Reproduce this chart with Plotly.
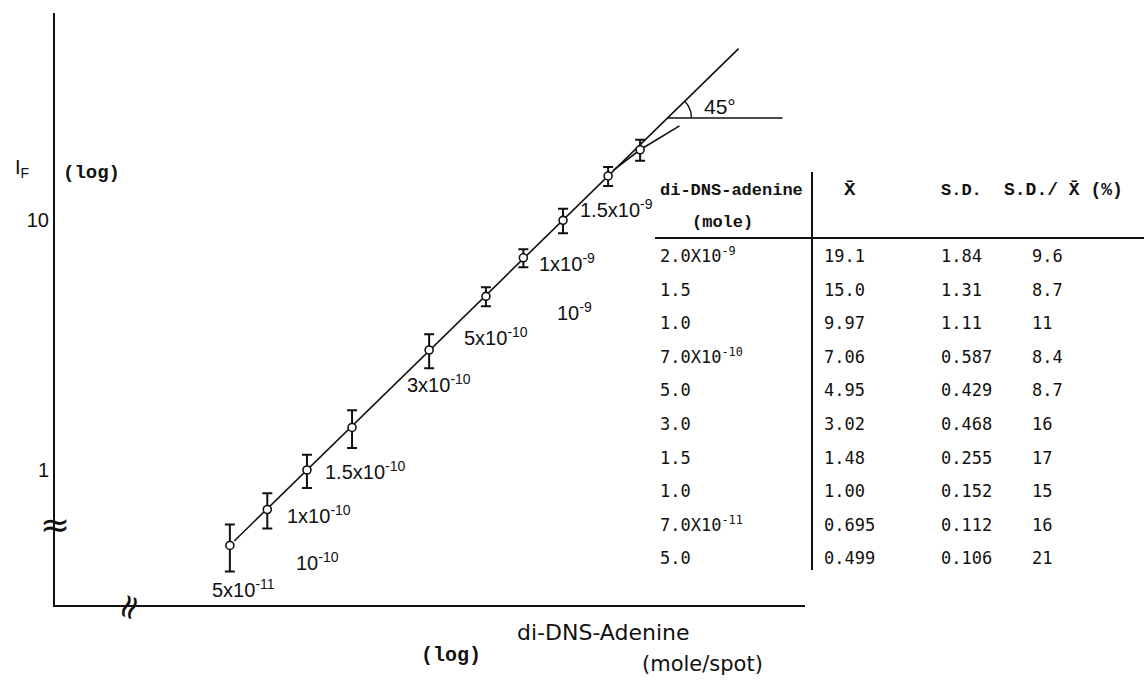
import numpy as np
import plotly.graph_objects as go

# ---------------- data ----------------
amount_mole = [5e-11, 7e-11, 1.0e-10, 1.5e-10, 3.0e-10, 5.0e-10, 7.0e-10, 1.0e-9, 1.5e-9, 2.0e-9]
mean_txt = ["0.499", "0.695", "1.00", "1.48", "3.02", "4.95", "7.06", "9.97", "15.0", "19.1"]
sd_txt = ["0.106", "0.112", "0.152", "0.255", "0.468", "0.429", "0.587", "1.11", "1.31", "1.84"]
cv_txt = ["21", "16", "15", "17", "16", "8.7", "8.4", "11", "8.7", "9.6"]
mole_txt = ["5.0", "7.0X10<sup>-11</sup>", "1.0", "1.5", "3.0", "5.0",
            "7.0X10<sup>-10</sup>", "1.0", "1.5", "2.0X10<sup>-9</sup>"]
mean_if = [float(s) for s in mean_txt]
sd_if = [float(s) for s in sd_txt]

# fitted straight line (slope 1 in log-log)
fit_x = [5.2e-11, 4.85e-9]
fit_y = [0.52, 48.5]
# deviation line at the high end
dev_x = [1.57e-9, 2.0e-9, 2.85e-9]
dev_y = [15.8, 19.1, 23.8]

# labels next to points
label_mole = [5e-11, 1e-10, 1.5e-10, 3e-10, 5e-10, 1e-9, 1.5e-9]
label_text = ["5x10<sup>-11</sup>", "1x10<sup>-10</sup>", "1.5x10<sup>-10</sup>", "3x10<sup>-10</sup>",
              "5x10<sup>-10</sup>", "1x10<sup>-9</sup>", "1.5x10<sup>-9</sup>"]
decade_mole = [1e-10, 1e-9]
decade_text = ["10<sup>-10</sup>", "10<sup>-9</sup>"]
y_tickvals = [1, 10]
y_ticktext = ["1", "10"]
angle_vertex_if = 25.6
angle_text = "45°"

# ---------------- layout geometry ----------------
W, H = 1144, 681
L, R, T, B = 55, 339, 13, 76
PW, PH = W - L - R, H - T - B
XR = [-10.984, -8.055]
YR = [-0.54, 1.828]
ppd_x = PW / (XR[1] - XR[0])
ppd_y = PH / (YR[1] - YR[0])


def px(x):
    return (x - L) / PW


def py(y):
    return (H - B - y) / PH


INK = "#111111"
SANS = "Liberation Sans"
MONO = "DejaVu Sans Mono"
MONOB = "Liberation Mono"

fig = go.Figure()

# fitted line
fig.add_trace(go.Scatter(x=fit_x, y=fit_y, mode="lines",
                         line=dict(color=INK, width=1.6), hoverinfo="skip"))
# deviation line
fig.add_trace(go.Scatter(x=dev_x, y=dev_y, mode="lines",
                         line=dict(color=INK, width=1.6), hoverinfo="skip"))

# 45 degree construction
lvx = float(np.interp(np.log10(angle_vertex_if), np.log10(fit_y), np.log10(fit_x)))
lvy = float(np.log10(angle_vertex_if))
arm = 115 / ppd_x
fig.add_trace(go.Scatter(x=[10 ** lvx, 10 ** (lvx + arm)], y=[angle_vertex_if, angle_vertex_if],
                         mode="lines", line=dict(color=INK, width=1.6), hoverinfo="skip"))
th = np.linspace(0, np.pi / 4, 20)
r = 24
fig.add_trace(go.Scatter(x=10 ** (lvx + r * np.cos(th) / ppd_x), y=10 ** (lvy + r * np.sin(th) / ppd_y),
                         mode="lines", line=dict(color=INK, width=1.4), hoverinfo="skip"))

# data points with error bars (+/- S.D.)
fig.add_trace(go.Scatter(
    x=amount_mole, y=mean_if, mode="markers",
    marker=dict(symbol="circle", size=8, color="white", line=dict(color=INK, width=1.6)),
    error_y=dict(type="data", array=sd_if, symmetric=True, color=INK, thickness=2, width=5),
))

annotations = []

# point labels
label_dx = [-20, -22, -29, -24, -24, -26, -30]
label_dy = [-43, -44, -43, -33, -40, -42, -33]
for m, t, dx, dy in zip(label_mole, label_text, label_dx, label_dy):
    yv = mean_if[amount_mole.index(m)]
    annotations.append(dict(x=np.log10(m), y=np.log10(yv), xref="x", yref="y", text=t,
                            showarrow=False, xanchor="left", yanchor="middle",
                            xshift=dx, yshift=dy, font=dict(family=SANS, size=20, color=INK)))
for m, t in zip(decade_mole, decade_text):
    yv = mean_if[amount_mole.index(m)]
    annotations.append(dict(x=np.log10(m), y=np.log10(yv), xref="x", yref="y", text=t,
                            showarrow=False, xanchor="center", yanchor="middle",
                            xshift=11, yshift=-91, font=dict(family=SANS, size=20, color=INK)))

# 45 deg text
annotations.append(dict(x=lvx, y=lvy, xref="x", yref="y", text=angle_text, showarrow=False,
                        xanchor="center", yanchor="middle", xshift=52, yshift=11,
                        font=dict(family=SANS, size=21, color=INK)))

# axis titles
annotations.append(dict(x=px(22), y=py(168), xref="paper", yref="paper", text="I<sub>F</sub>",
                        showarrow=False, xanchor="center", yanchor="middle",
                        font=dict(family=SANS, size=20, color=INK)))
annotations.append(dict(x=px(91), y=py(173), xref="paper", yref="paper", text="<b>(log)</b>",
                        showarrow=False, xanchor="center", yanchor="middle",
                        font=dict(family=MONOB, size=19, color=INK)))
annotations.append(dict(x=px(603), y=py(632), xref="paper", yref="paper", text="di-DNS-Adenine",
                        showarrow=False, xanchor="center", yanchor="middle",
                        font=dict(family="DejaVu Sans", size=22, color=INK)))
annotations.append(dict(x=px(451), y=py(655), xref="paper", yref="paper", text="<b>(log)</b>",
                        showarrow=False, xanchor="center", yanchor="middle",
                        font=dict(family=MONOB, size=20, color=INK)))
annotations.append(dict(x=px(702), y=py(664), xref="paper", yref="paper", text="(mole/spot)",
                        showarrow=False, xanchor="center", yanchor="middle",
                        font=dict(family="DejaVu Sans", size=21, color=INK)))

# axis break marks
annotations.append(dict(x=px(55), y=py(524), xref="paper", yref="paper", text="≈",
                        showarrow=False, xanchor="center", yanchor="middle",
                        font=dict(family="DejaVu Sans", size=36, color=INK)))
annotations.append(dict(x=px(128), y=py(607), xref="paper", yref="paper", text="≈",
                        showarrow=False, xanchor="center", yanchor="middle", textangle=-70,
                        font=dict(family="DejaVu Sans", size=34, color=INK)))

# ---------------- table ----------------
hdr_font = dict(family=MONOB, size=17, color=INK)
row_font = dict(family=MONO, size=17, color=INK)
annotations.append(dict(x=px(658), y=py(190), xref="paper", yref="paper", text="<b>di-DNS-adenine</b>",
                        showarrow=False, xanchor="left", yanchor="middle", font=hdr_font))
annotations.append(dict(x=px(722), y=py(222), xref="paper", yref="paper", text="<b>(mole)</b>",
                        showarrow=False, xanchor="center", yanchor="middle", font=hdr_font))
annotations.append(dict(x=px(850), y=py(190), xref="paper", yref="paper", text="<b>X̄</b>",
                        showarrow=False, xanchor="center", yanchor="middle",
                        font=dict(family=MONOB, size=19, color=INK)))
annotations.append(dict(x=px(939), y=py(190), xref="paper", yref="paper", text="<b>S.D.</b>",
                        showarrow=False, xanchor="left", yanchor="middle", font=hdr_font))
annotations.append(dict(x=px(1002), y=py(190), xref="paper", yref="paper", text="<b>S.D./ X̄ (%)</b>",
                        showarrow=False, xanchor="left", yanchor="middle",
                        font=dict(family=MONOB, size=18, color=INK)))

n = len(amount_mole)
for i in range(n):
    k = n - 1 - i  # table runs from largest to smallest amount
    ybot = 256 + 33.6 * i + 12
    for txt, xl in ((mole_txt[k], 658), (mean_txt[k], 822), (sd_txt[k], 939), (cv_txt[k], 1030)):
        annotations.append(dict(x=px(xl), y=py(ybot), xref="paper", yref="paper", text=txt,
                                showarrow=False, xanchor="left", yanchor="bottom", font=row_font))

shapes = [
    dict(type="line", xref="paper", yref="paper", x0=px(812), x1=px(812), y0=py(172), y1=py(570),
         line=dict(color=INK, width=2)),
    dict(type="line", xref="paper", yref="paper", x0=px(655), x1=px(1144), y0=py(238), y1=py(238),
         line=dict(color=INK, width=2)),
]

fig.update_layout(
    width=W, height=H,
    margin=dict(l=L, r=R, t=T, b=B, pad=0, autoexpand=False),
    paper_bgcolor="white", plot_bgcolor="white",
    showlegend=False,
    xaxis=dict(type="log", range=XR, showline=True, linecolor=INK, linewidth=2,
               showgrid=False, zeroline=False, showticklabels=False, ticks=""),
    yaxis=dict(type="log", range=YR, showline=True, linecolor=INK, linewidth=2,
               showgrid=False, zeroline=False, ticks="", tickvals=y_tickvals, ticktext=y_ticktext,
               tickfont=dict(family=SANS, size=20, color=INK), automargin=False),
    annotations=annotations,
    shapes=shapes,
)

fig.write_html("out.html")
